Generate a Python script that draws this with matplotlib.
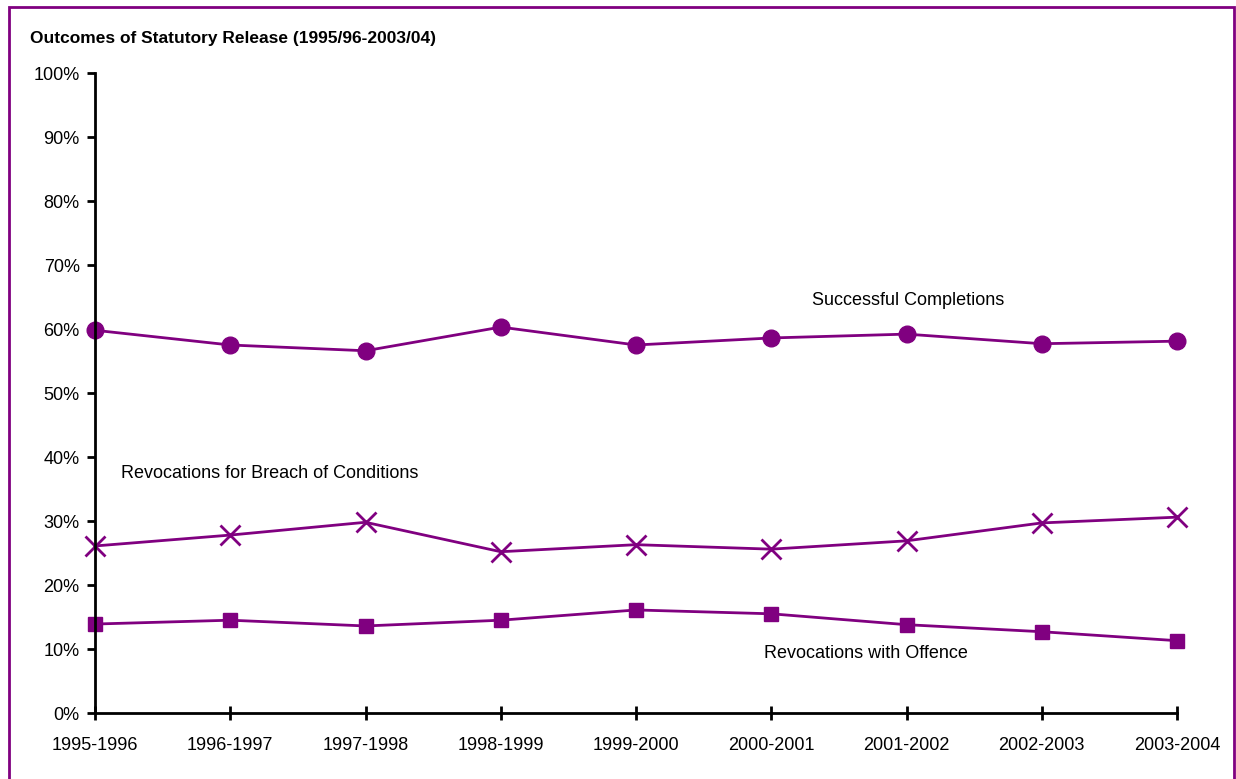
import matplotlib
matplotlib.use("Agg")
import matplotlib.pyplot as plt
from matplotlib.patches import Rectangle

plt.rcParams['font.family'] = ['Liberation Sans Narrow', 'Liberation Sans', 'DejaVu Sans']

years = ['1995-1996', '1996-1997', '1997-1998', '1998-1999', '1999-2000',
         '2000-2001', '2001-2002', '2002-2003', '2003-2004']
successful = [59.8, 57.5, 56.6, 60.3, 57.5, 58.6, 59.2, 57.7, 58.1]
breach = [26.1, 27.8, 29.8, 25.2, 26.3, 25.6, 26.9, 29.7, 30.6]
offence = [13.9, 14.5, 13.6, 14.5, 16.1, 15.5, 13.8, 12.7, 11.3]

purple = '#800080'
W, H = 1236, 779

fig = plt.figure(figsize=(W / 100, H / 100), dpi=100)
ax = fig.add_axes([95 / W, 1 - 713 / H, (1177 - 95) / W, (713 - 73) / H])

x = list(range(len(years)))
ax.plot(x, successful, color=purple, lw=2, marker='o', ms=12, clip_on=False)
ax.plot(x, breach, color=purple, lw=2, marker='x', ms=14, mew=2, clip_on=False)
ax.plot(x, offence, color=purple, lw=2, marker='s', ms=9.5, clip_on=False)

ax.set_xlim(0, 8)
ax.set_ylim(0, 100)
ax.set_xticks(x)
ax.set_xticklabels(years)
ax.set_yticks(range(0, 101, 10))
ax.set_yticklabels([f'{v}%' for v in range(0, 101, 10)])
for s in ['top', 'right']:
    ax.spines[s].set_visible(False)
for s in ['left', 'bottom']:
    ax.spines[s].set_linewidth(2)
ax.tick_params(axis='y', direction='out', length=6, width=2, labelsize=13, pad=5)
ax.tick_params(axis='x', direction='inout', length=10, width=2, labelsize=13, pad=12)

ax.text(5.3, 64.5, 'Successful Completions', fontsize=13, va='center')
ax.text(0.19, 37.4, 'Revocations for Breach of Conditions', fontsize=13, va='center')
ax.text(4.95, 9.3, 'Revocations with Offence', fontsize=13, va='center')

fig.text(30 / W, 1 - 38 / H, 'Outcomes of Statutory Release (1995/96-2003/04)',
         fontsize=12.5, fontweight='bold', va='center')

fig.patches.append(Rectangle((9 / W, -0.05), (1234 - 9) / W, 1.05 - 7 / H,
                             transform=fig.transFigure, fill=False,
                             edgecolor=purple, lw=2))

fig.savefig('out.png', dpi=100)
